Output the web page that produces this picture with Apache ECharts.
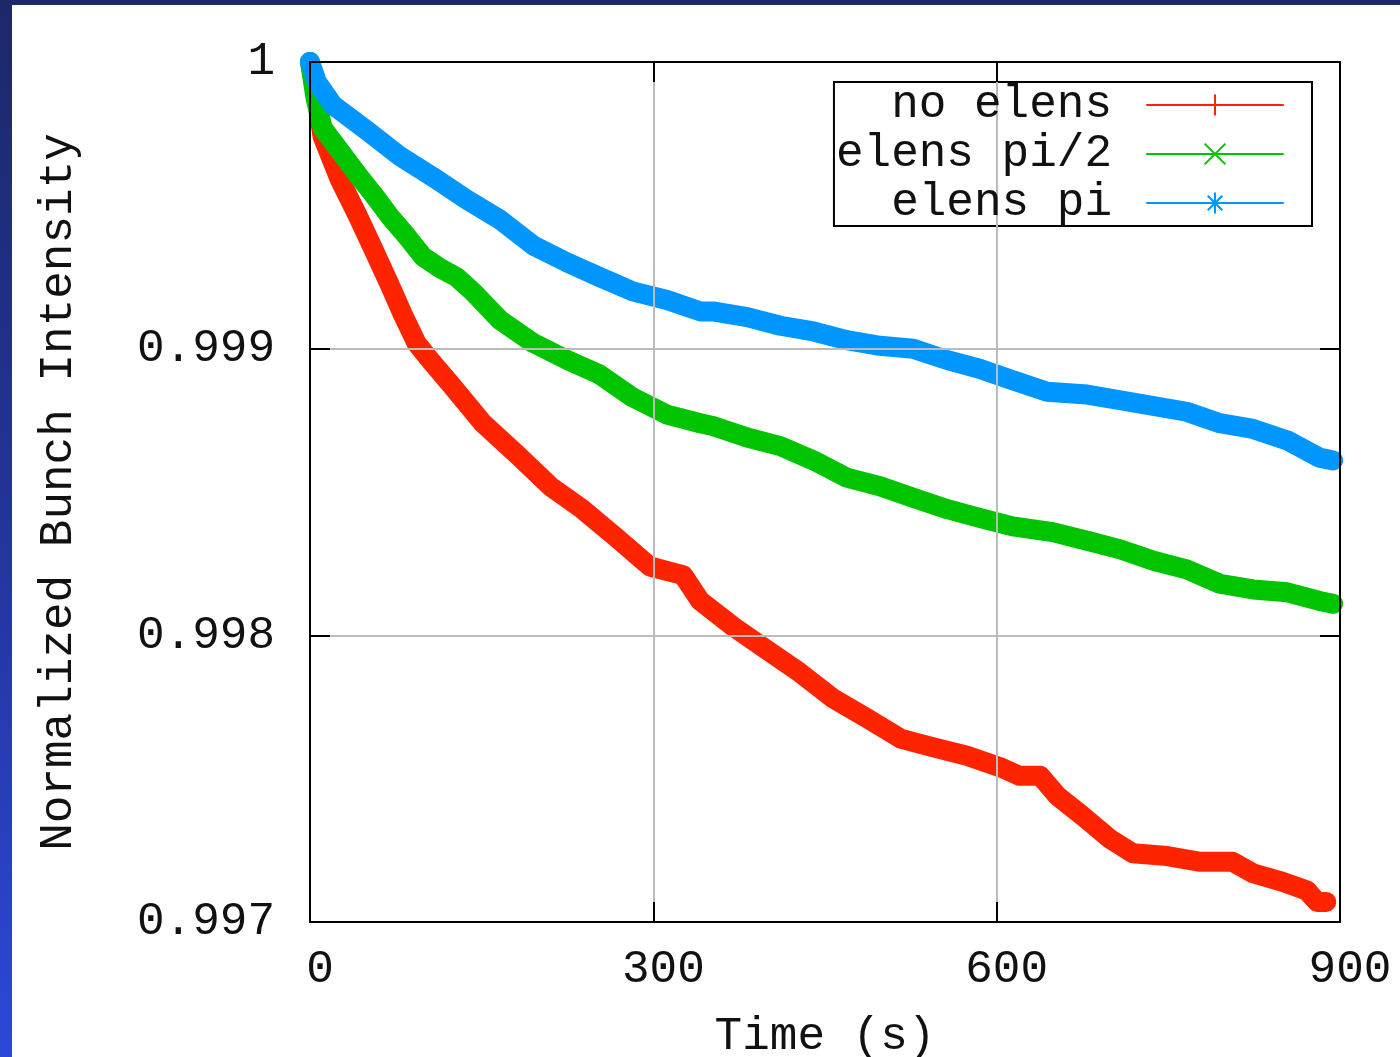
<!DOCTYPE html>
<html>
<head>
<meta charset="utf-8">
<script src="https://cdn.jsdelivr.net/npm/echarts@6/dist/echarts.min.js"></script>
<style>
  html, body { margin: 0; padding: 0; background: #fff; }
  #chart { width: 1400px; height: 1057px; }
</style>
</head>
<body>
<div id="chart"></div>
<script>
// ---- data ----
const seriesNames = ['no elens', 'elens pi/2', 'elens pi'];
const xTicks = [0, 300, 600, 900];
const yTicks = [0.997, 0.998, 0.999, 1];

const tNoElens = [0, 5, 11, 26, 41, 55, 70, 81, 93, 105, 122, 151, 181, 210, 238, 268, 297, 326, 341, 370, 399, 428, 457, 487, 516, 544, 574, 603, 620, 638, 653, 675, 699, 719, 749, 778, 806, 824, 850, 871, 880, 888];
const vNoElens = [1.0, 0.99990, 0.99974, 0.99959, 0.99947, 0.99935, 0.99922, 0.99912, 0.99902, 0.99896, 0.99888, 0.99874, 0.99863, 0.99852, 0.99844, 0.99834, 0.99824, 0.99821, 0.99812, 0.99803, 0.99795, 0.99787, 0.99778, 0.99771, 0.99764, 0.99761, 0.99758, 0.99754, 0.99751, 0.99751, 0.99744, 0.99737, 0.99729, 0.99724, 0.99723, 0.99721, 0.99721, 0.99717, 0.99714, 0.99711, 0.99707, 0.99707];

const tPi2 = [0, 5, 11, 26, 41, 55, 70, 85, 99, 114, 128, 142, 166, 195, 225, 253, 282, 312, 341, 352, 382, 411, 440, 469, 498, 527, 557, 585, 614, 649, 679, 708, 737, 766, 795, 824, 854, 882, 894];
const vPi2 = [1.0, 0.99987, 0.99977, 0.99969, 0.99961, 0.99954, 0.99946, 0.99939, 0.99932, 0.99928, 0.99925, 0.99920, 0.99910, 0.99902, 0.99896, 0.99891, 0.99883, 0.99877, 0.99874, 0.99873, 0.99869, 0.99866, 0.99861, 0.99855, 0.99852, 0.99848, 0.99844, 0.99841, 0.99838, 0.99836, 0.99833, 0.99830, 0.99826, 0.99823, 0.99818, 0.99816, 0.99815, 0.99812, 0.99811];

const tPi = [0, 6, 20, 50, 79, 107, 137, 166, 195, 225, 253, 282, 312, 341, 352, 382, 411, 440, 469, 498, 527, 557, 585, 614, 644, 679, 708, 737, 766, 795, 824, 854, 882, 894];
const vPi = [1.0, 0.99993, 0.99985, 0.99976, 0.99967, 0.99960, 0.99952, 0.99945, 0.99936, 0.99930, 0.99925, 0.99920, 0.99917, 0.99913, 0.99913, 0.99911, 0.99908, 0.99906, 0.99903, 0.99901, 0.99900, 0.99896, 0.99893, 0.99889, 0.99885, 0.99884, 0.99882, 0.99880, 0.99878, 0.99874, 0.99872, 0.99868, 0.99862, 0.99861];

const colors = ['#ff2400', '#00c400', '#0096ff'];
const symbols = [
  'path://M0,5L10,5M5,0L5,10',
  'path://M0,0L10,10M10,0L0,10',
  'path://M0,5L10,5M5,0L5,10M1.5,1.5L8.5,8.5M8.5,1.5L1.5,8.5'
];

const FONT = '"Liberation Mono", "DejaVu Sans Mono", monospace';
const FS = 46;
const zip = (t, v) => t.map((x, i) => [x, v[i]]);
const datasets = [zip(tNoElens, vNoElens), zip(tPi2, vPi2), zip(tPi, vPi)];

const yFmt = v => (Math.abs(v - 1) < 1e-9 ? '1' : v.toFixed(3));

const chart = echarts.init(document.getElementById('chart'), null, { renderer: 'canvas' });

const tickStyle = { show: true, inside: true, length: 20, lineStyle: { color: '#000', width: 2 } };
const frameLine = { show: true, onZero: false, lineStyle: { color: '#000', width: 2 } };

chart.setOption({
  backgroundColor: '#ffffff',
  animation: false,
  grid: { left: 310, top: 62, width: 1030, height: 860, outerBoundsMode: 'none', containLabel: false },
  legend: {
    orient: 'vertical',
    align: 'right',
    right: 88,
    top: 82,
    padding: [0, 28, 0, 2],
    itemGap: 3,
    itemWidth: 136,
    itemHeight: 26,
    backgroundColor: '#fff',
    borderColor: '#000',
    borderWidth: 2,
    borderRadius: 0,
    z: 10,
    data: seriesNames,
    textStyle: { fontFamily: FONT, fontSize: FS, color: '#111', lineHeight: 40, padding: [0, 30, 0, 0] },
    lineStyle: { width: 2 },
    itemStyle: { borderWidth: 2 }
  },
  xAxis: [
    {
      type: 'value', min: 0, max: 900, interval: 300,
      position: 'bottom',
      name: 'Time (s)', nameLocation: 'middle', nameGap: 92,
      nameTextStyle: { fontFamily: FONT, fontSize: FS, color: '#111' },
      axisLine: frameLine,
      axisTick: tickStyle,
      axisLabel: { fontFamily: FONT, fontSize: FS, color: '#111', margin: 25, padding: [0, 0, 0, 20], formatter: v => String(v) },
      splitLine: { show: true, lineStyle: { color: '#bbbbbb', width: 2 } },
      z: 10
    },
    {
      type: 'value', min: 0, max: 900, interval: 300, position: 'top',
      axisLine: frameLine, axisTick: tickStyle, axisLabel: { show: false }, splitLine: { show: false }, z: 10
    }
  ],
  yAxis: [
    {
      type: 'value', min: 0.997, max: 1, interval: 0.001,
      position: 'left',
      name: 'Normalized Bunch Intensity', nameLocation: 'middle', nameGap: 228, nameRotate: 90,
      nameTextStyle: { fontFamily: FONT, fontSize: FS, color: '#111' },
      axisLine: frameLine,
      axisTick: tickStyle,
      axisLabel: { fontFamily: FONT, fontSize: FS, color: '#111', margin: 35, formatter: yFmt },
      splitLine: { show: true, lineStyle: { color: '#bbbbbb', width: 2 } },
      z: 10
    },
    {
      type: 'value', min: 0.997, max: 1, interval: 0.001, position: 'right',
      axisLine: frameLine, axisTick: tickStyle, axisLabel: { show: false }, splitLine: { show: false }, z: 10
    }
  ],
  series: seriesNames.map((name, i) => ({
    name: name,
    type: 'line',
    data: datasets[i],
    symbol: symbols[i],
    symbolSize: 22,
    showSymbol: false,
    color: colors[i],
    itemStyle: { color: colors[i], borderColor: colors[i], borderWidth: 2 },
    lineStyle: { color: colors[i], width: 20, join: 'round', cap: 'round' },
    z: 3 + i
  })),
  graphic: [
    { type: 'rect', left: 0, top: 0, shape: { width: 1400, height: 5 }, style: { fill: '#1c2868' }, silent: true, z: 100 },
    {
      type: 'rect', left: 0, top: 0, shape: { width: 12, height: 1057 }, silent: true, z: 100,
      style: { fill: new echarts.graphic.LinearGradient(0, 0, 0, 1, [
        { offset: 0, color: '#1c2868' }, { offset: 0.5, color: '#23349a' }, { offset: 1, color: '#2c48d8' }
      ]) }
    }
  ]
});
</script>
</body>
</html>
